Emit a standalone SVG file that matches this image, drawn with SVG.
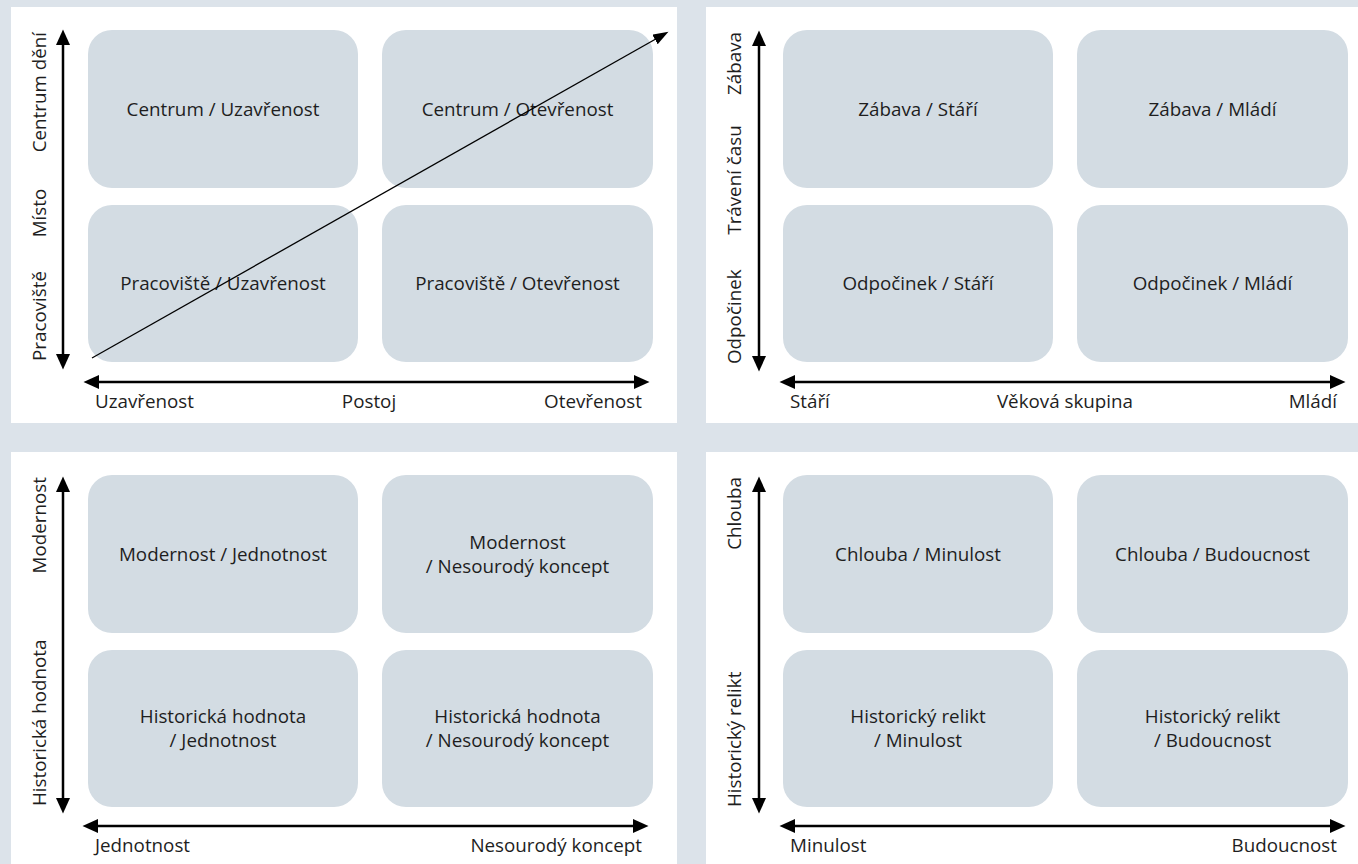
<svg xmlns="http://www.w3.org/2000/svg" width="1358" height="864" viewBox="0 0 1358 864">
<style>
.panel{fill:#ffffff}
.box{fill:#d3dce3}
.t{font-family:"Open Sans","Noto Sans","Liberation Sans",sans-serif;font-size:18.8px;fill:#1e1e1e}
.c{text-anchor:middle}
.e{text-anchor:end}
.s{text-anchor:start}
.axis{stroke:#000;stroke-width:2.5;fill:none;marker-start:url(#ah);marker-end:url(#ah)}
.diag{stroke:#000;stroke-width:1.3;fill:none;marker-end:url(#dh)}
</style>
<defs>
<marker id="ah" markerUnits="userSpaceOnUse" markerWidth="16" markerHeight="14" viewBox="0 0 16 14" refX="5" refY="7" orient="auto-start-reverse">
<path d="M0,0 L15.5,7 L0,14 z" fill="#000"/>
</marker>
<marker id="dh" markerUnits="userSpaceOnUse" markerWidth="16" markerHeight="12" viewBox="0 0 16 12" refX="5" refY="5.5" orient="auto">
<path d="M0,0 L15.5,5.5 L0,11 z" fill="#000"/>
</marker>
</defs>
<rect x="0" y="0" width="1358" height="864" fill="#dce3ea"/>

<g id="panel1">
<rect class="panel" x="11" y="7" width="666" height="416"/>
<g id="p1-box1"><rect class="box" x="88" y="30" width="270" height="158" rx="24"/><text class="t c" x="223" y="116">Centrum / Uzavřenost</text></g>
<g id="p1-box2"><rect class="box" x="382" y="30" width="271" height="158" rx="24"/><text class="t c" x="517.5" y="116">Centrum / Otevřenost</text></g>
<g id="p1-box3"><rect class="box" x="88" y="205" width="270" height="157" rx="24"/><text class="t c" x="223" y="290">Pracoviště / Uzavřenost</text></g>
<g id="p1-box4"><rect class="box" x="382" y="205" width="271" height="157" rx="24"/><text class="t c" x="517.5" y="290">Pracoviště / Otevřenost</text></g>
<g id="p1-labels">
<text class="t e" transform="translate(46,32) rotate(-90)">Centrum dění</text>
<text class="t c" transform="translate(46,213) rotate(-90)">Místo</text>
<text class="t s" transform="translate(46,361) rotate(-90)">Pracoviště</text>
<text class="t s" x="95" y="408">Uzavřenost</text>
<text class="t c" x="369" y="408">Postoj</text>
<text class="t e" x="642" y="408">Otevřenost</text>
</g>
</g>

<g id="panel2">
<rect class="panel" x="706" y="7" width="660" height="416"/>
<g id="p2-box1"><rect class="box" x="783" y="30" width="270" height="158" rx="24"/><text class="t c" x="918" y="116">Zábava / Stáří</text></g>
<g id="p2-box2"><rect class="box" x="1077" y="30" width="271" height="158" rx="24"/><text class="t c" x="1212.5" y="116">Zábava / Mládí</text></g>
<g id="p2-box3"><rect class="box" x="783" y="205" width="270" height="157" rx="24"/><text class="t c" x="918" y="290">Odpočinek / Stáří</text></g>
<g id="p2-box4"><rect class="box" x="1077" y="205" width="271" height="157" rx="24"/><text class="t c" x="1212.5" y="290">Odpočinek / Mládí</text></g>
<g id="p2-labels">
<text class="t e" transform="translate(741,32) rotate(-90)">Zábava</text>
<text class="t c" transform="translate(741,180) rotate(-90)">Trávení času</text>
<text class="t s" transform="translate(741,364) rotate(-90)">Odpočinek</text>
<text class="t s" x="790" y="408">Stáří</text>
<text class="t c" x="1065" y="408">Věková skupina</text>
<text class="t e" x="1337" y="408">Mládí</text>
</g>
</g>

<g id="panel3">
<rect class="panel" x="11" y="452" width="666" height="420"/>
<g id="p3-box1"><rect class="box" x="88" y="475" width="270" height="158" rx="24"/><text class="t c" x="223" y="561">Modernost / Jednotnost</text></g>
<g id="p3-box2"><rect class="box" x="382" y="475" width="271" height="158" rx="24"/><text class="t c" x="517.5" y="549">Modernost</text><text class="t c" x="517.5" y="573">/ Nesourodý koncept</text></g>
<g id="p3-box3"><rect class="box" x="88" y="650" width="270" height="157" rx="24"/><text class="t c" x="223" y="723">Historická hodnota</text><text class="t c" x="223" y="747">/ Jednotnost</text></g>
<g id="p3-box4"><rect class="box" x="382" y="650" width="271" height="157" rx="24"/><text class="t c" x="517.5" y="723">Historická hodnota</text><text class="t c" x="517.5" y="747">/ Nesourodý koncept</text></g>
<g id="p3-labels">
<text class="t e" transform="translate(46,477) rotate(-90)">Modernost</text>
<text class="t s" transform="translate(46,806) rotate(-90)">Historická hodnota</text>
<text class="t s" x="95" y="852">Jednotnost</text>
<text class="t e" x="642" y="852">Nesourodý koncept</text>
</g>
</g>

<g id="panel4">
<rect class="panel" x="706" y="452" width="660" height="420"/>
<g id="p4-box1"><rect class="box" x="783" y="475" width="270" height="158" rx="24"/><text class="t c" x="918" y="561">Chlouba / Minulost</text></g>
<g id="p4-box2"><rect class="box" x="1077" y="475" width="271" height="158" rx="24"/><text class="t c" x="1212.5" y="561">Chlouba / Budoucnost</text></g>
<g id="p4-box3"><rect class="box" x="783" y="650" width="270" height="157" rx="24"/><text class="t c" x="918" y="723">Historický relikt</text><text class="t c" x="918" y="747">/ Minulost</text></g>
<g id="p4-box4"><rect class="box" x="1077" y="650" width="271" height="157" rx="24"/><text class="t c" x="1212.5" y="723">Historický relikt</text><text class="t c" x="1212.5" y="747">/ Budoucnost</text></g>
<g id="p4-labels">
<text class="t e" transform="translate(741,477) rotate(-90)">Chlouba</text>
<text class="t s" transform="translate(741,807) rotate(-90)">Historický relikt</text>
<text class="t s" x="790" y="852">Minulost</text>
<text class="t e" x="1337" y="852">Budoucnost</text>
</g>
</g>

<g id="connectors">
<line class="axis" x1="63" y1="40" x2="63" y2="359"/>
<line class="axis" x1="94" y1="382" x2="639" y2="382"/>
<line class="diag" x1="92" y1="358" x2="659.3" y2="37"/>
<line class="axis" x1="759" y1="41" x2="759" y2="361"/>
<line class="axis" x1="790" y1="382" x2="1335" y2="382"/>
<line class="axis" x1="63" y1="487" x2="63" y2="803"/>
<line class="axis" x1="93" y1="826" x2="638" y2="826"/>
<line class="axis" x1="759" y1="487" x2="759" y2="803"/>
<line class="axis" x1="790" y1="826" x2="1335" y2="826"/>
</g>
</svg>
